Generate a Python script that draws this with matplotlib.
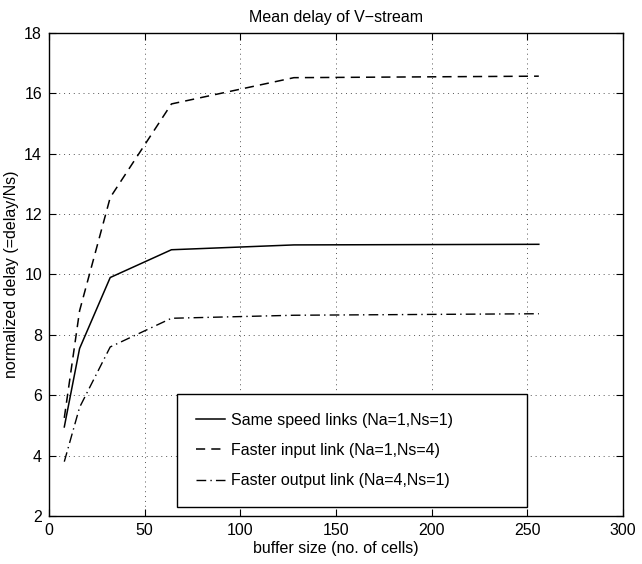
import numpy as np
import matplotlib
matplotlib.use("Agg")
import matplotlib.pyplot as plt

plt.rcParams["font.family"] = ["Liberation Sans", "DejaVu Sans"]

buffer_size = [8, 16, 32, 64, 128, 256]
same_speed = [4.95, 7.55, 9.9, 10.82, 10.98, 11.0]
faster_input = [5.25, 8.8, 12.55, 15.65, 16.52, 16.57]
faster_output = [3.8, 5.6, 7.6, 8.55, 8.65, 8.7]

labels = ["Same speed links (Na=1,Ns=1)",
          "Faster input link (Na=1,Ns=4)",
          "Faster output link (Na=4,Ns=1)"]

fig = plt.figure(figsize=(6.42, 5.64), dpi=100)
ax = fig.add_axes([0.0763, 0.0851, 0.8941, 0.8564])

ax.plot(buffer_size, same_speed, color="black", linestyle="-", linewidth=1.1, label=labels[0])
ax.plot(buffer_size, faster_input, color="black", linestyle=(0, (6, 4)), linewidth=1.1, label=labels[1])
ax.plot(buffer_size, faster_output, color="black", linestyle=(0, (7, 3, 1, 3)), linewidth=1.0, label=labels[2])

ax.set_xlim(0, 300)
ax.set_ylim(2, 18)
ax.set_xticks(np.arange(0, 301, 50))
ax.set_yticks(np.arange(2, 19, 2))
ax.grid(True, linestyle=(0, (1, 4)), color="#555555", linewidth=0.7)
ax.tick_params(direction="in", top=True, right=True, labelsize=11.5, length=5, pad=5)
for s in ax.spines.values():
    s.set_linewidth(1.0)

ax.set_title("Mean delay of V\u2212stream", fontsize=11.5, pad=8)
ax.set_xlabel("buffer size (no. of cells)", fontsize=11.5, labelpad=2)
ax.set_ylabel("normalized delay (=delay/Ns)", fontsize=11.5, labelpad=4)

leg = ax.legend(loc="lower left", bbox_to_anchor=(0.223, 0.018, 0.61, 0.24), mode="expand",
                fontsize=11.5, fancybox=False, framealpha=1, edgecolor="black",
                handlelength=1.8, handletextpad=0.4, borderaxespad=0,
                labelspacing=0.95, borderpad=1.2)
leg.get_frame().set_linewidth(1.0)

fig.savefig("out.png", dpi=100)
